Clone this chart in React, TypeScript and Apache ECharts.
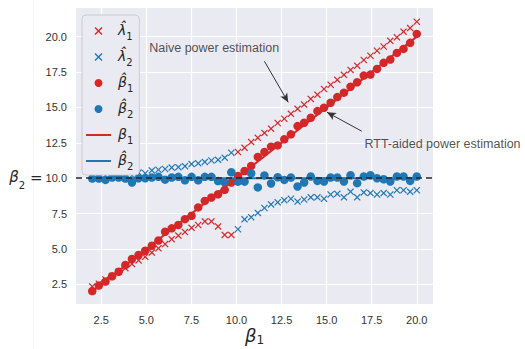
import React, { useEffect, useRef } from 'react';
import * as echarts from 'echarts';

// x grid (50 points from 2 to 20)
const xValues = [
  2.000, 2.367, 2.735, 3.102, 3.469, 3.837, 4.204, 4.571, 4.939, 5.306,
  5.673, 6.041, 6.408, 6.776, 7.143, 7.510, 7.878, 8.245, 8.612, 8.980,
  9.347, 9.714, 10.082, 10.449, 10.816, 11.184, 11.551, 11.918, 12.286, 12.653,
  13.020, 13.388, 13.755, 14.122, 14.490, 14.857, 15.224, 15.592, 15.959, 16.327,
  16.694, 17.061, 17.429, 17.796, 18.163, 18.531, 18.898, 19.265, 19.633, 20.000,
];

// naive estimates (lambda hat 1, lambda hat 2)
const lambdaHat1 = [
  2.35, 2.55, 2.85, 3.1, 3.4, 3.65, 3.95, 4.2, 4.45, 4.75,
  5.05, 5.35, 5.7, 5.95, 6.2, 6.5, 6.7, 6.95, 6.95, 6.6,
  6.0, 6.0, 11.85, 12.15, 12.55, 12.85, 13.2, 13.5, 13.9, 14.2,
  14.55, 14.9, 15.2, 15.6, 15.9, 16.3, 16.6, 16.95, 17.3, 17.65,
  17.95, 18.35, 18.65, 19.0, 19.3, 19.7, 19.95, 20.35, 20.6, 21.05,
];
const lambdaHat2 = [
  10.2, 10.22, 10.2, 10.22, 10.2, 10.18, 10.2, 10.4, 10.35, 10.55,
  10.6, 10.65, 10.75, 10.78, 10.85, 11.0, 11.05, 11.15, 11.25, 11.3,
  11.45, 11.8, 6.4, 7.1, 7.25, 7.55, 7.9, 8.15, 8.3, 8.45,
  8.55, 8.35, 8.5, 8.65, 8.65, 8.55, 8.85, 8.9, 8.65, 9.05,
  8.65, 9.0, 8.95, 8.85, 8.95, 8.85, 9.15, 9.15, 9.05, 9.15,
];

// RTT-aided estimates (beta hat 1, beta hat 2)
const betaHat1 = [
  2.03, 2.42, 2.7, 3.08, 3.4, 3.87, 4.3, 4.58, 4.88, 5.23,
  5.6, 6.22, 6.46, 6.7, 7.11, 7.35, 7.94, 8.4, 8.64, 8.87,
  9.18, 9.7, 10.16, 10.51, 10.87, 11.5, 11.85, 12.23, 12.32, 12.75,
  13.1, 13.68, 13.92, 14.27, 14.74, 14.98, 15.33, 15.73, 16.04, 16.46,
  16.78, 17.25, 17.32, 17.72, 18.15, 18.38, 18.85, 19.13, 19.56, 20.19,
];
const betaHat2 = [
  9.98, 9.98, 9.88, 10.05, 10.05, 9.98, 9.7, 10.0, 10.0, 10.05,
  10.1, 9.9, 10.05, 10.1, 9.85, 10.1, 9.85, 10.1, 10.1, 9.8,
  9.7, 10.42, 9.76, 9.76, 10.35, 9.35, 10.2, 9.63, 10.07, 9.88,
  10.05, 9.42, 9.7, 10.12, 9.81, 9.77, 10.05, 10.05, 9.77, 10.21,
  9.65, 10.12, 10.21, 10.0, 9.93, 9.77, 10.12, 10.12, 9.81, 10.12,
];

// true values
const trueX = [2, 20];
const beta1True = [2, 20];
const beta2True = [10, 10];

// ticks
const xTicks = [2.5, 5.0, 7.5, 10.0, 12.5, 15.0, 17.5, 20.0];
const yTicks = [2.5, 5.0, 7.5, 10.0, 12.5, 15.0, 17.5, 20.0];

// annotations (data coordinates)
const annotationTexts = ['Naive power estimation', 'RTT-aided power estimation'];
const annotationTextAt = [[5.16, 19.17], [17.1, 12.4]];
const annotationArrowFrom = [[11.55, 18.26], [16.95, 13.32]];
const annotationArrowTo = [[12.87, 15.36], [15.02, 14.66]];
const referenceLevel = 10;

const RED = '#d62728';
const BLUE = '#1f77b4';
const TEXT = '#262626';
const X_PATH =
  'path://M0,1.2L1.2,0L5,3.8L8.8,0L10,1.2L6.2,5L10,8.8L8.8,10L5,6.2L1.2,10L0,8.8L3.8,5Z';
const LINE_ICON = 'path://M0,0L25,0L25,2L0,2Z';

const legendLabels: Record<string, string> = {
  l1: '{m|\u03BB\u0302}{s|1}',
  l2: '{m|\u03BB\u0302}{s|2}',
  b1hat: '{m|\u03B2\u0302}{s|1}',
  b2hat: '{m|\u03B2\u0302}{s|2}',
  b1: '{m|\u03B2}{s|1}',
  b2: '{m|\u03B2\u0302}{s|2}',
};

const mathRich = {
  m: {
    fontFamily: 'DejaVu Sans',
    fontStyle: 'italic',
    fontSize: 14,
    color: TEXT,
    lineHeight: 16,
    verticalAlign: 'top',
  },
  s: {
    fontFamily: 'DejaVu Sans',
    fontStyle: 'normal',
    fontSize: 10,
    color: TEXT,
    lineHeight: 16,
    verticalAlign: 'bottom',
    padding: [0, 0, -2, 0],
  },
};

function pairs(xs: number[], ys: number[]) {
  return xs.map((x, i) => [x, ys[i]]);
}

export default function App() {
  const ref = useRef<HTMLDivElement>(null);
  useEffect(() => {
    document.body.style.margin = '0';
    const chart = echarts.init(ref.current!, null, { renderer: 'svg' });
    const axisLabelStyle = {
      color: '#333',
      fontSize: 11,
      fontFamily: 'Liberation Sans, Arial, sans-serif',
    };
    chart.setOption({
      animation: false,
      backgroundColor: '#ffffff',
      graphic: [
        {
          type: 'line',
          shape: { x1: 33.5, y1: 0, x2: 33.5, y2: 349 },
          style: { stroke: '#FCF2E6', lineWidth: 1 },
          silent: true,
        },
      ],
      grid: {
        left: 76,
        top: 8,
        width: 357,
        height: 296,
        show: true,
        backgroundColor: '#EAEAF2',
        borderWidth: 0,
        containLabel: false,
        outerBoundsMode: 'none',
      },
      xAxis: {
        type: 'value',
        min: 1.1,
        max: 20.9,
        axisLine: { show: false },
        axisTick: { show: false, customValues: xTicks },
        axisLabel: {
          ...axisLabelStyle,
          customValues: xTicks,
          margin: 10,
          formatter: (v: number) => v.toFixed(1),
        },
        splitLine: { show: true, lineStyle: { color: '#ffffff', width: 1.2 } },
        name: '{m|\u03B2}{s|1}',
        nameLocation: 'middle',
        nameGap: 22,
        nameMoveOverlap: false,
        nameTextStyle: {
          rich: {
            m: {
              fontFamily: 'DejaVu Sans',
              fontStyle: 'italic',
              fontSize: 18,
              color: TEXT,
              lineHeight: 20,
              verticalAlign: 'top',
            },
            s: {
              fontFamily: 'DejaVu Sans',
              fontSize: 12,
              color: TEXT,
              lineHeight: 20,
              verticalAlign: 'bottom',
            },
          },
        },
      },
      yAxis: {
        type: 'value',
        min: 1.12,
        max: 22.02,
        axisLine: { show: false },
        axisTick: { show: false, customValues: yTicks },
        axisLabel: {
          ...axisLabelStyle,
          customValues: yTicks,
          margin: 9,
          hideOverlap: false,
          formatter: (v: number) =>
            Math.abs(v - referenceLevel) < 1e-9 ? '' : v.toFixed(1),
        },
        splitLine: { show: true, lineStyle: { color: '#ffffff', width: 1.2 } },
      },
      legend: {
        orient: 'vertical',
        left: 82,
        top: 15,
        padding: [8, 6, 4, 4],
        itemGap: 8,
        itemWidth: 25,
        itemHeight: 8,
        backgroundColor: '#EAEAF2',
        borderColor: '#CCCCCC',
        borderWidth: 1,
        borderRadius: 4,
        data: [
          { name: 'l1' },
          { name: 'l2' },
          { name: 'b1hat' },
          { name: 'b2hat' },
          { name: 'b1', icon: LINE_ICON },
          { name: 'b2', icon: LINE_ICON },
        ],
        formatter: (name: string) => legendLabels[name] || name,
        textStyle: {
          color: TEXT,
          padding: [0, 0, 0, 2],
          rich: mathRich,
        },
      },
      series: [
        {
          name: 'l1',
          type: 'scatter',
          data: pairs(xValues, lambdaHat1),
          symbol: X_PATH,
          symbolSize: 7,
          symbolKeepAspect: true,
          itemStyle: { color: RED, opacity: 1 },
          z: 2,
        },
        {
          name: 'l2',
          type: 'scatter',
          data: pairs(xValues, lambdaHat2),
          symbol: X_PATH,
          symbolSize: 7,
          symbolKeepAspect: true,
          itemStyle: { color: BLUE, opacity: 1 },
          z: 2,
        },
        {
          name: 'b1hat',
          type: 'scatter',
          data: pairs(xValues, betaHat1),
          symbol: 'circle',
          symbolSize: 8.5,
          itemStyle: { color: RED, opacity: 1 },
          z: 3,
        },
        {
          name: 'b2hat',
          type: 'scatter',
          data: pairs(xValues, betaHat2),
          symbol: 'circle',
          symbolSize: 8.5,
          itemStyle: { color: BLUE, opacity: 1 },
          z: 3,
        },
        {
          name: 'b1',
          type: 'line',
          data: pairs(trueX, beta1True),
          symbol: 'none',
          showSymbol: false,
          lineStyle: { color: RED, width: 2 },
          itemStyle: { color: RED },
          z: 4,
        },
        {
          name: 'b2',
          type: 'line',
          data: pairs(trueX, beta2True),
          symbol: 'none',
          showSymbol: false,
          lineStyle: { color: BLUE, width: 2 },
          itemStyle: { color: BLUE },
          z: 4,
        },
        {
          name: 'annotations',
          type: 'scatter',
          clip: false,
          silent: true,
          symbolSize: 0,
          z: 6,
          data: annotationTexts.map((t, i) => ({
            name: t,
            value: annotationTextAt[i],
          })),
          label: {
            show: true,
            position: 'right',
            distance: 0,
            formatter: '{b}',
            color: TEXT,
            fontSize: 12.5,
            fontFamily: 'Liberation Sans, Arial, sans-serif',
          },
          markLine: {
            silent: true,
            animation: false,
            label: { show: false },
            symbol: ['none', 'arrow'],
            symbolSize: [6, 9],
            lineStyle: { color: '#333333', width: 1, type: 'solid' },
            data: annotationArrowFrom.map((from, i) => [
              { coord: from },
              { coord: annotationArrowTo[i] },
            ]),
          },
        },
        {
          name: 'reference',
          type: 'line',
          data: [],
          z: 7,
          markLine: {
            silent: true,
            animation: false,
            symbol: ['none', 'none'],
            label: {
              show: true,
              position: 'start',
              distance: 9,
              formatter: () =>
                '{m|\u03B2}{s|2}{e| =}{n| ' + referenceLevel.toFixed(1) + '}',
              rich: {
                m: {
                  fontFamily: 'DejaVu Sans',
                  fontStyle: 'italic',
                  fontSize: 15,
                  color: TEXT,
                  lineHeight: 18,
                  verticalAlign: 'top',
                },
                s: {
                  fontFamily: 'DejaVu Sans',
                  fontSize: 10,
                  color: TEXT,
                  lineHeight: 18,
                  verticalAlign: 'bottom',
                  padding: [0, 0, -3, 0],
                },
                e: {
                  fontFamily: 'DejaVu Sans',
                  fontSize: 15,
                  color: TEXT,
                  lineHeight: 18,
                },
                n: {
                  ...axisLabelStyle,
                  lineHeight: 18,
                },
              },
            },
            lineStyle: { color: TEXT, width: 1.5, type: [6, 4] },
            data: [{ yAxis: referenceLevel }],
          },
        },
      ],
    });
    return () => chart.dispose();
  }, []);
  return <div ref={ref} style={{ width: 525, height: 349 }} />;
}
